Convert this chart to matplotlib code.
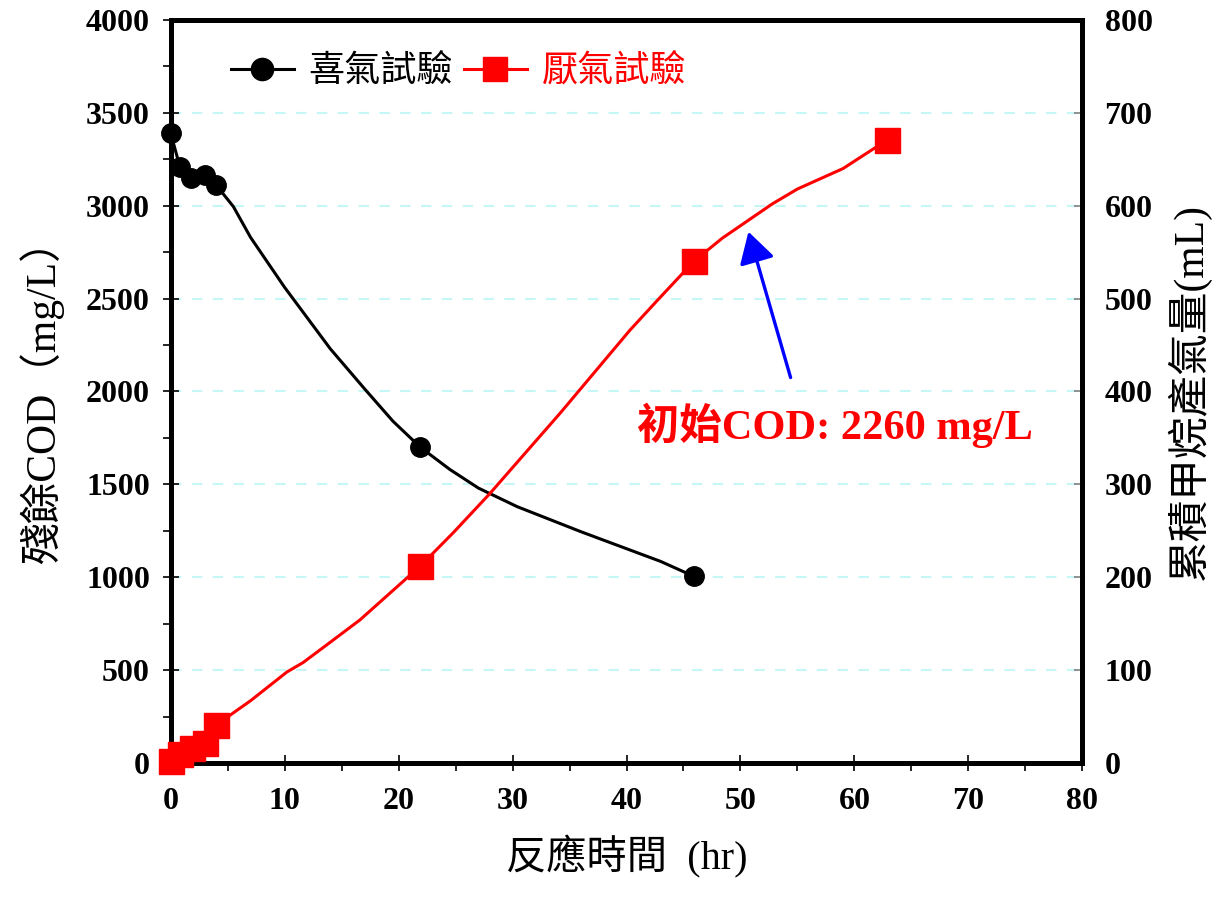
import matplotlib
matplotlib.use('Agg')
import matplotlib.pyplot as plt
from matplotlib.lines import Line2D
from matplotlib.ticker import MultipleLocator

plt.rcParams['font.family'] = ['Liberation Serif', 'Noto Sans CJK TC']

# --- data ---
# aerobic test: residual COD (mg/L), measured points
aerobic_t = [0, 0.8, 1.8, 3.0, 4.0, 21.9, 45.9]
aerobic_cod = [3390, 3210, 3150, 3165, 3110, 1700, 1005]
# smoothed curve drawn through them (vertices)
aerobic_curve_t = [0, 0.8, 1.8, 3.0, 4.0, 5.5, 7, 10, 14, 17, 19.5, 21.9, 24.5, 27, 30.4, 36, 43, 45.9]
aerobic_curve_cod = [3390, 3210, 3150, 3165, 3110, 2995, 2830, 2560, 2230, 2015, 1840, 1700, 1580, 1480, 1380, 1245, 1085, 1005]

# anaerobic test: cumulative methane (mL), measured points
anaerobic_t = [0, 0.8, 1.9, 3.0, 4.0, 21.9, 45.9, 62.9]
anaerobic_ch4 = [2, 10, 16, 21, 41, 212, 540, 671]
anaerobic_curve_t = [0, 0.8, 1.9, 3.0, 4.0, 7, 10.2, 11.6, 14, 16.6, 21.9, 24.8, 28, 34.2, 40.3, 42.7, 45.9, 48.4, 52.8, 55, 59, 62.9]
anaerobic_curve_ch4 = [2, 10, 16, 21, 41, 67, 98, 108, 130, 154, 212, 248, 290, 377, 466, 498, 540, 565, 602, 618, 640, 671]

series_names = ['喜氣試驗', '厭氣試驗']
note_text = '初始COD: 2260 mg/L'

fig = plt.figure(figsize=(12.31, 8.99), dpi=100)
ax = fig.add_axes([0.1387, 0.1513, 0.7405, 0.8265])
ax2 = ax.twinx()

# curves + markers
ax.plot(aerobic_curve_t, aerobic_curve_cod, color='black', lw=2.2, zorder=3)
ax.plot(aerobic_t, aerobic_cod, 'o', color='black', ms=14, clip_on=False, zorder=4)
ax2.plot(anaerobic_curve_t, anaerobic_curve_ch4, color='#ff0000', lw=2.2, zorder=3)
ax2.plot(anaerobic_t, anaerobic_ch4, 's', color='#ff0000', ms=18, clip_on=False, zorder=4)

ax.set_xlim(0, 80)
ax.set_ylim(0, 4000)
ax2.set_ylim(0, 800)

ax.xaxis.set_major_locator(MultipleLocator(10))
ax.xaxis.set_minor_locator(MultipleLocator(5))
ax.yaxis.set_major_locator(MultipleLocator(500))
ax.yaxis.set_minor_locator(MultipleLocator(250))
ax2.yaxis.set_major_locator(MultipleLocator(100))

ax.yaxis.grid(True, which='major', color='#c6f7f7', linestyle=(0, (5, 5)), lw=1.5)
ax.set_axisbelow(True)

for a in (ax, ax2):
    for s in a.spines.values():
        s.set_linewidth(3.5)

ax.tick_params(axis='both', which='major', direction='inout', length=12, width=1.2,
               labelsize=23)
ax.tick_params(axis='x', which='major', pad=11)
ax.tick_params(axis='y', which='major', pad=9)
ax.tick_params(axis='both', which='minor', direction='out', length=6, width=1.2)
ax2.tick_params(axis='y', which='major', direction='in', length=6, width=1.2,
                color='gray', labelsize=23, pad=16)
for lab in ax.get_xticklabels() + ax.get_yticklabels() + ax2.get_yticklabels():
    lab.set_fontweight('bold')

ax.set_xlabel('反應時間  (hr)', fontsize=29, labelpad=14)
ax.set_ylabel('殘餘COD（mg/L）', fontsize=30, labelpad=16)
ax2.set_ylabel('累積甲烷產氣量(mL)', fontsize=30, labelpad=10)

# legend
handles = [
    Line2D([], [], color='black', lw=2.2, marker='o', ms=16),
    Line2D([], [], color='#ff0000', lw=2.2, marker='s', ms=17),
]
leg = ax2.legend(handles, series_names, loc='center left', bbox_to_anchor=(0.066, 0.929),
                 ncol=2, frameon=False, fontsize=26, handlelength=1.75,
                 handletextpad=0.4, columnspacing=0.3, borderpad=0, borderaxespad=0)
leg.get_texts()[1].set_color('#ff0000')

# annotation
ax2.text(0.511, 0.455, note_text, transform=ax.transAxes, color='#ff0000',
         fontsize=30.5, fontweight='bold', ha='left', va='center')
ax.annotate('', xy=(50.7, 2860), xytext=(54.4, 2075),
            arrowprops=dict(arrowstyle='-|>,head_length=0.95,head_width=0.55',
                            color='#0000ff', lw=2.4, mutation_scale=20,
                            shrinkA=0, shrinkB=0))

fig.savefig('out.png', dpi=100)
